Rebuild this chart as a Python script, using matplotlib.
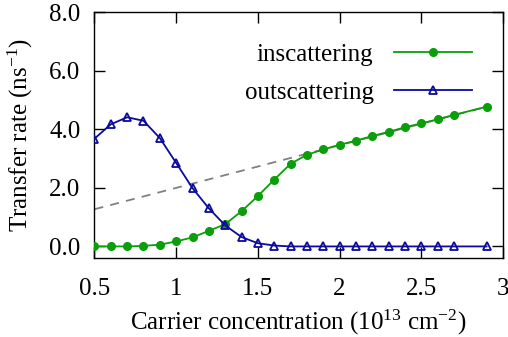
import numpy as np
import matplotlib
matplotlib.use("Agg")
import matplotlib.pyplot as plt

plt.rcParams["font.family"] = ["Liberation Serif", "DejaVu Serif"]
plt.rcParams["mathtext.fontset"] = "custom"
plt.rcParams["mathtext.rm"] = "Liberation Serif"
plt.rcParams["mathtext.it"] = "Liberation Serif:italic"

# carrier concentration (10^13 cm^-2)
conc = [0.5, 0.6, 0.7, 0.8, 0.9, 1.0, 1.1, 1.2, 1.3, 1.4, 1.5, 1.6, 1.7,
        1.8, 1.9, 2.0, 2.1, 2.2, 2.3, 2.4, 2.5, 2.6, 2.7, 2.9]
inscat = [0.00, 0.00, 0.00, 0.02, 0.06, 0.17, 0.31, 0.53, 0.76, 1.20, 1.72,
          2.28, 2.82, 3.13, 3.31, 3.47, 3.61, 3.77, 3.91, 4.07, 4.20, 4.34,
          4.49, 4.77]
outscat = [3.68, 4.17, 4.41, 4.29, 3.70, 2.85, 1.99, 1.30, 0.72, 0.32, 0.11,
           0.03, 0.00, 0.00, 0.00, 0.00, 0.00, 0.00, 0.00, 0.00, 0.00, 0.00,
           0.00, 0.00]
# linear guide (dashed)
fit_x = [0.5, 2.9]
fit_y = [1.27, 4.77]

green = "#0a9e0a"
blue = "#0a0a9e"

fig = plt.figure(figsize=(5.08, 3.37), dpi=100)
ax = fig.add_axes([0.186, 0.234, 0.804, 0.730])

ax.plot(fit_x, fit_y, color="#808080", lw=1.3, dashes=(5, 4), zorder=1)
ax.plot(conc, inscat, color=green, lw=1.3, marker="o", ms=5.5,
        label="inscattering", zorder=3)
ax.plot(conc, outscat, color=blue, lw=1.3, marker="^", ms=5.5, mfc="none",
        mew=1.3, label="outscattering", zorder=3)

ax.set_xlim(0.5, 3.0)
ax.set_ylim(-0.4, 8.0)
ax.set_xticks([0.5, 1, 1.5, 2, 2.5, 3])
ax.set_xticklabels(["0.5", "1", "1.5", "2", "2.5", "3"])
ax.set_yticks([0, 2, 4, 6, 8])
ax.set_yticklabels(["0.0", "2.0", "4.0", "6.0", "8.0"])
ax.tick_params(direction="in", length=8, width=1, labelsize=18,
               top=True, right=True, pad=10)
ax.tick_params(axis="x", pad=14)
for s in ax.spines.values():
    s.set_linewidth(1)

ax.set_xlabel(r"Carrier concentration (10$^{13}$ cm$^{-2}$)", fontsize=18,
              labelpad=6)
ax.set_ylabel(r"Transfer rate (ns$^{-1}$)", fontsize=18, labelpad=10)

ax.legend(loc="upper right", bbox_to_anchor=(0.98, 0.965), frameon=False,
          markerfirst=False, fontsize=18, handlelength=3.15,
          handletextpad=0.8, labelspacing=0.62)

fig.savefig("out.png", dpi=100)
